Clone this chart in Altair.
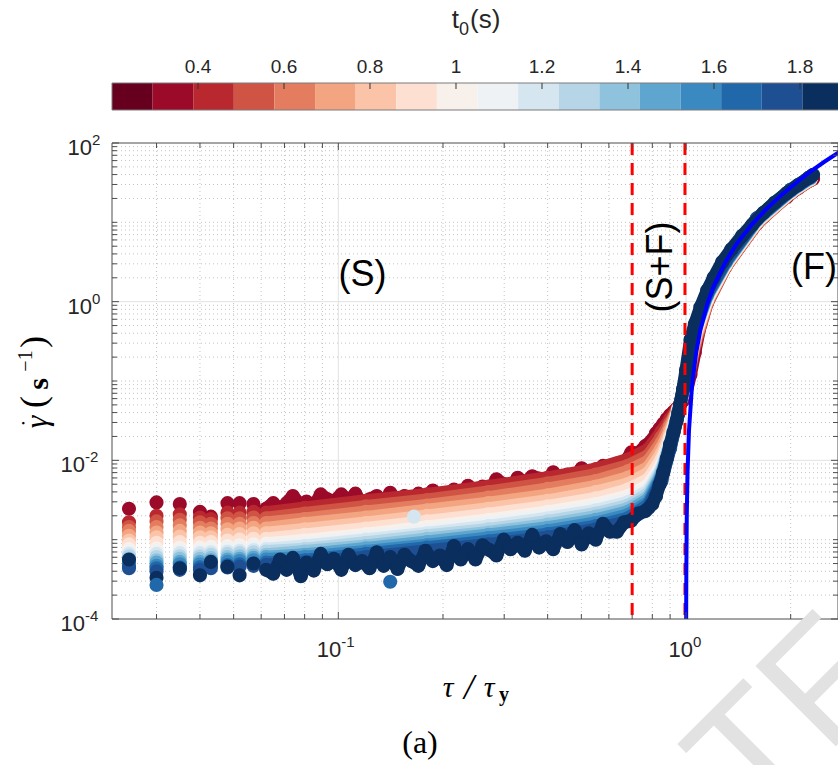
import altair as alt
import pandas as pd

# ---------------- data ----------------
t0_values = [0.3, 0.4, 0.5, 0.6, 0.7, 0.8, 0.9, 1.0, 1.1, 1.2, 1.3, 1.4, 1.5, 1.6, 1.7, 1.8, 1.9]
cbar_limits = [0.2, 1.9]
cbar_ticks = [0.4, 0.6, 0.8, 1.0, 1.2, 1.4, 1.6, 1.8]
cbar_tick_labels = ["0.4", "0.6", "0.8", "1", "1.2", "1.4", "1.6", "1.8"]
palette = ["#67001f", "#9b0a28", "#b9282f", "#d05444", "#e47d60", "#f3a581",
           "#fbc4a8", "#fde0d2", "#f8f0ea", "#eef2f5", "#d6e6f0", "#b6d6e7",
           "#8fc3dd", "#5ea5cf", "#3a89c0", "#2168ab", "#1e4f93", "#0a2f5e"]

# tau/tau_y sampling of the two outer (noisy, fully visible) series
x_fine = [0.025, 0.030, 0.035, 0.040, 0.043, 0.048, 0.052, 0.057, 0.062,
          0.065, 0.068, 0.071, 0.074, 0.078, 0.081, 0.085, 0.089, 0.093, 0.097,
          0.102, 0.107, 0.112, 0.117, 0.123, 0.129, 0.135, 0.141, 0.148, 0.155,
          0.162, 0.170, 0.178, 0.187, 0.196, 0.205, 0.215, 0.225, 0.236, 0.248,
          0.260, 0.272, 0.285, 0.299, 0.313, 0.328, 0.344, 0.361, 0.378, 0.396,
          0.415, 0.435, 0.456, 0.478, 0.501, 0.525, 0.550, 0.577, 0.604, 0.633,
          0.664, 0.696, 0.729, 0.764, 0.800,
          0.82, 0.84, 0.86, 0.88, 0.90, 0.92, 0.94, 0.96, 0.98, 1.00,
          1.03, 1.06, 1.10, 1.15, 1.20, 1.27, 1.35, 1.45, 1.55, 1.67, 1.80,
          1.95, 2.10, 2.25, 2.32]
# tau/tau_y sampling of the inner series
x_coarse = [0.025, 0.030, 0.035, 0.040, 0.043, 0.048, 0.052, 0.057, 0.062, 0.08,
            0.12, 0.18, 0.27, 0.40, 0.55, 0.68, 0.78, 0.85, 0.90, 0.95, 1.00,
            1.06, 1.15, 1.30, 1.60, 2.00, 2.28]

# log10 of shear rate (1/s) for each t0 series
lg_t03 = [-2.61, -2.53, -2.55, -2.65, -2.71, -2.54, -2.54, -2.55, -2.61,
          -2.54, -2.63, -2.54, -2.45, -2.57, -2.52, -2.58, -2.43, -2.49, -2.52,
          -2.43, -2.51, -2.42, -2.56, -2.49, -2.45, -2.54, -2.41, -2.51, -2.45,
          -2.53, -2.42, -2.47, -2.38, -2.49, -2.42, -2.37, -2.46, -2.32, -2.39,
          -2.33, -2.38, -2.24, -2.30, -2.35, -2.22, -2.28, -2.20, -2.23, -2.29,
          -2.15, -2.24, -2.18, -2.24, -2.10, -2.16, -2.17, -2.07, -2.15, -2.04,
          -2.04, -1.90, -1.91, -1.82, -1.74,
          -1.66, -1.60, -1.54, -1.48, -1.43, -1.39, -1.35, -1.30, -1.25, -1.15,
          -0.92, -0.64, -0.28, 0.00, 0.20, 0.42, 0.59, 0.77, 0.92, 1.07, 1.20,
          1.32, 1.43, 1.52, 1.55]
lg_t04 = [-2.78, -2.70, -2.68, -2.72, -2.74, -2.66, -2.66, -2.65, -2.66, -2.60, -2.51, -2.43, -2.33, -2.22, -2.11, -1.99, -1.86, -1.64, -1.48, -1.33, -1.10, -0.55, -0.02, 0.44, 0.99, 1.37, 1.53]
lg_t05 = [-2.84, -2.77, -2.75, -2.78, -2.80, -2.73, -2.73, -2.72, -2.73, -2.67, -2.58, -2.50, -2.40, -2.29, -2.18, -2.07, -1.94, -1.71, -1.53, -1.34, -1.08, -0.53, -0.01, 0.45, 0.99, 1.37, 1.53]
lg_t06 = [-2.89, -2.84, -2.82, -2.85, -2.86, -2.80, -2.80, -2.79, -2.79, -2.74, -2.65, -2.57, -2.47, -2.36, -2.26, -2.14, -2.01, -1.78, -1.57, -1.34, -1.06, -0.50, 0.00, 0.45, 1.00, 1.37, 1.54]
lg_t07 = [-2.95, -2.91, -2.89, -2.91, -2.92, -2.87, -2.86, -2.85, -2.86, -2.80, -2.72, -2.63, -2.54, -2.44, -2.33, -2.22, -2.09, -1.85, -1.62, -1.35, -1.04, -0.48, 0.01, 0.46, 1.00, 1.38, 1.54]
lg_t08 = [-3.01, -2.97, -2.96, -2.97, -2.97, -2.94, -2.93, -2.92, -2.92, -2.87, -2.79, -2.70, -2.61, -2.51, -2.40, -2.30, -2.16, -1.92, -1.67, -1.36, -1.02, -0.45, 0.02, 0.46, 1.01, 1.38, 1.54]
lg_t09 = [-3.06, -3.04, -3.03, -3.04, -3.03, -3.01, -3.00, -2.99, -2.99, -2.94, -2.86, -2.77, -2.68, -2.58, -2.48, -2.37, -2.24, -1.99, -1.71, -1.36, -1.00, -0.43, 0.03, 0.47, 1.01, 1.38, 1.55]
lg_t10 = [-3.12, -3.11, -3.10, -3.10, -3.09, -3.08, -3.07, -3.06, -3.05, -3.01, -2.93, -2.84, -2.75, -2.65, -2.55, -2.45, -2.31, -2.06, -1.76, -1.37, -0.98, -0.40, 0.04, 0.47, 1.02, 1.39, 1.55]
lg_t11 = [-3.15, -3.15, -3.14, -3.14, -3.12, -3.11, -3.10, -3.09, -3.08, -3.05, -2.97, -2.88, -2.79, -2.69, -2.59, -2.49, -2.35, -2.09, -1.77, -1.38, -0.97, -0.39, 0.05, 0.48, 1.02, 1.39, 1.55]
lg_t12 = [-3.18, -3.18, -3.17, -3.17, -3.16, -3.15, -3.14, -3.13, -3.12, -3.08, -3.00, -2.92, -2.83, -2.73, -2.63, -2.53, -2.38, -2.11, -1.78, -1.38, -0.96, -0.38, 0.06, 0.48, 1.02, 1.39, 1.55]
lg_t13 = [-3.21, -3.22, -3.21, -3.21, -3.19, -3.18, -3.17, -3.16, -3.15, -3.12, -3.04, -2.95, -2.87, -2.77, -2.67, -2.57, -2.42, -2.14, -1.79, -1.39, -0.96, -0.37, 0.07, 0.49, 1.03, 1.39, 1.56]
lg_t14 = [-3.24, -3.26, -3.24, -3.24, -3.23, -3.22, -3.21, -3.20, -3.19, -3.15, -3.08, -2.99, -2.91, -2.81, -2.71, -2.61, -2.46, -2.16, -1.80, -1.39, -0.95, -0.36, 0.08, 0.49, 1.03, 1.40, 1.56]
lg_t15 = [-3.27, -3.29, -3.28, -3.28, -3.26, -3.25, -3.24, -3.23, -3.22, -3.19, -3.11, -3.03, -2.94, -2.85, -2.75, -2.65, -2.49, -2.19, -1.82, -1.40, -0.94, -0.35, 0.08, 0.50, 1.04, 1.40, 1.56]
lg_t16 = [-3.30, -3.33, -3.31, -3.31, -3.29, -3.28, -3.27, -3.26, -3.25, -3.22, -3.15, -3.07, -2.98, -2.89, -2.79, -2.69, -2.53, -2.21, -1.83, -1.41, -0.94, -0.34, 0.09, 0.50, 1.04, 1.40, 1.57]
lg_t17 = [-3.33, -3.36, -3.35, -3.35, -3.33, -3.32, -3.31, -3.30, -3.29, -3.26, -3.18, -3.10, -3.02, -2.93, -2.83, -2.73, -2.56, -2.24, -1.84, -1.41, -0.93, -0.33, 0.10, 0.51, 1.05, 1.41, 1.57]
lg_t18 = [-3.36, -3.40, -3.38, -3.38, -3.36, -3.35, -3.34, -3.33, -3.32, -3.29, -3.22, -3.14, -3.06, -2.97, -2.87, -2.77, -2.60, -2.26, -1.85, -1.42, -0.92, -0.32, 0.11, 0.52, 1.05, 1.41, 1.57]
lg_t19 = [-3.25, -3.48, -3.36, -3.45, -3.28, -3.34, -3.45, -3.30, -3.38,
          -3.43, -3.25, -3.38, -3.23, -3.46, -3.29, -3.39, -3.18, -3.31, -3.24,
          -3.38, -3.19, -3.32, -3.27, -3.36, -3.16, -3.33, -3.22, -3.37, -3.19,
          -3.27, -3.33, -3.14, -3.27, -3.20, -3.32, -3.08, -3.25, -3.12, -3.25,
          -3.07, -3.13, -3.20, -3.00, -3.12, -3.04, -3.14, -2.94, -3.10, -3.02,
          -3.12, -2.93, -3.03, -2.88, -3.06, -2.92, -3.00, -2.80, -2.90, -2.90,
          -2.78, -2.76, -2.67, -2.64, -2.55,
          -2.45, -2.30, -2.15, -1.98, -1.80, -1.65, -1.50, -1.30, -1.10, -0.86,
          -0.48, -0.28, -0.07, 0.14, 0.30, 0.50, 0.66, 0.83, 0.97, 1.12, 1.25,
          1.37, 1.47, 1.56, 1.60]

outlier_tau = [0.165, 0.141, 0.030]
outlier_lg = [-2.71, -3.53, -3.57]
outlier_t0 = [1.2, 1.7, 1.7]

# Herschel-Bulkley fit (blue curve)
hb_tau = [1.0005, 1.001, 1.002, 1.005, 1.01, 1.02, 1.04, 1.07, 1.10, 1.15, 1.20,
          1.30, 1.40, 1.55, 1.70, 1.90, 2.10, 2.30, 2.50, 2.72, 2.80]
hb_gamma = [3.2e-5, 1.1e-4, 3.9e-4, 2.0e-3, 7.0e-3, 2.4e-2, 8.5e-2, 0.23, 0.44, 0.92,
            1.55, 3.2, 5.4, 9.5, 14.7, 23.0, 33.0, 45.0, 58.0, 74.0, 80.0]

boundary_tau = [0.70, 0.993]

annot_tau = [0.1174, 2.335]
annot_gamma = [2.17, 2.62]
annot_text = ["(S)", "(F)"]
sf_tau = [0.846]
sf_gamma = [2.74]

x_major = [0.1, 1.0]
x_major_exp = ["-1", "0"]
y_major = [1e-4, 1e-2, 1e0, 1e2]
y_major_exp = ["-4", "-2", "0", "2"]
x_minor = [0.03, 0.04, 0.05, 0.06, 0.07, 0.08, 0.09,
           0.2, 0.3, 0.4, 0.5, 0.6, 0.7, 0.8, 0.9, 2.0]
y_minor = [m * 10.0 ** e for e in range(-4, 2) for m in range(2, 10)] + [1e-3, 1e-1, 1e1]

# ---------------- chart ----------------
W, H = 726, 476
xs = alt.Scale(type="log", domain=[0.02234, 2.736], nice=False)
ys = alt.Scale(type="log", domain=[1e-4, 1e2], nice=False)
cs = alt.Scale(type="quantize", domain=cbar_limits, range=palette, nice=False, zero=False)
cbs = alt.Scale(type="linear", domain=[0.2, 1.8884], nice=False, zero=False, clamp=True)
AX = "#4d4d4d"
LBL = "#262626"
SANS = "Liberation Sans"
SERIF = "Liberation Serif"
DOT = 200      # marker area -> ~14 px circles
BAND = 13      # connecting stroke width

def X(f="v"):
    return alt.X(f + ":Q", scale=xs, axis=None)

def Y(f="v"):
    return alt.Y(f + ":Q", scale=ys, axis=None)

def ptext(s, x, y, size, color="black", **kw):
    return alt.Chart(pd.DataFrame({"a": [0]})).mark_text(fontSize=size, color=color, **kw).encode(
        x=alt.value(x), y=alt.value(y), text=alt.value(s))

layers = []
# grid
layers.append(alt.Chart(pd.DataFrame({"v": x_minor})).mark_rule(color="#c4c4c4", strokeWidth=1, strokeDash=[1, 3]).encode(x=X()))
layers.append(alt.Chart(pd.DataFrame({"v": y_minor})).mark_rule(color="#c4c4c4", strokeWidth=1, strokeDash=[1, 3]).encode(y=Y()))
layers.append(alt.Chart(pd.DataFrame({"v": x_major})).mark_rule(color="#e2e2e2", strokeWidth=1).encode(x=X()))
layers.append(alt.Chart(pd.DataFrame({"v": [1e-2, 1e0]})).mark_rule(color="#e2e2e2", strokeWidth=1).encode(y=Y()))

series = [(0.3, x_fine, lg_t03), (0.4, x_coarse, lg_t04), (0.5, x_coarse, lg_t05),
          (0.6, x_coarse, lg_t06), (0.7, x_coarse, lg_t07), (0.8, x_coarse, lg_t08),
          (0.9, x_coarse, lg_t09), (1.0, x_coarse, lg_t10), (1.1, x_coarse, lg_t11),
          (1.2, x_coarse, lg_t12), (1.3, x_coarse, lg_t13), (1.4, x_coarse, lg_t14),
          (1.5, x_coarse, lg_t15), (1.6, x_coarse, lg_t16), (1.7, x_coarse, lg_t17),
          (1.8, x_coarse, lg_t18), (1.9, x_fine, lg_t19)]

for t, xv, lg in series:
    df = pd.DataFrame({"x": xv, "y": [10.0 ** v for v in lg], "t0": [t] * len(xv)})
    base = alt.Chart(df).encode(x=X("x"), y=Y("y"),
                                color=alt.Color("t0:Q", scale=cs, legend=None))
    layers.append(base.transform_filter(alt.datum.x >= 0.061)
                  .mark_line(strokeWidth=BAND, strokeCap="round", strokeJoin="round"))
    layers.append(base.mark_circle(size=DOT, opacity=1))

odf = pd.DataFrame({"x": outlier_tau, "y": [10.0 ** v for v in outlier_lg], "t0": outlier_t0})
layers.append(alt.Chart(odf).mark_circle(size=DOT, opacity=1).encode(
    x=X("x"), y=Y("y"), color=alt.Color("t0:Q", scale=cs, legend=None)))

# boundaries and fit
layers.append(alt.Chart(pd.DataFrame({"v": boundary_tau})).mark_rule(
    color="#ff0000", strokeWidth=3, strokeDash=[12, 8]).encode(x=X()))
layers.append(alt.Chart(pd.DataFrame({"x": hb_tau, "y": hb_gamma})).mark_line(
    color="#0000ff", strokeWidth=4, clip=True).encode(x=X("x"), y=Y("y")))

# region annotations
layers.append(alt.Chart(pd.DataFrame({"x": annot_tau, "y": annot_gamma, "s": annot_text})).mark_text(
    font=SANS, fontSize=36, color="black", align="center", baseline="middle").encode(
    x=X("x"), y=Y("y"), text="s:N"))
layers.append(alt.Chart(pd.DataFrame({"x": sf_tau, "y": sf_gamma, "s": ["(S+F)"]})).mark_text(
    font=SANS, fontSize=36, color="black", align="center", baseline="middle", angle=270).encode(
    x=X("x"), y=Y("y"), text="s:N"))

# frame and inward ticks
layers.append(alt.Chart(pd.DataFrame({"a": [0]})).mark_rect(fillOpacity=0, stroke=AX, strokeWidth=1).encode(
    x=alt.value(0), x2=alt.value(W), y=alt.value(0), y2=alt.value(H)))
for vals, ln in ((x_minor, 5), (x_major, 7)):
    d = pd.DataFrame({"v": vals})
    layers.append(alt.Chart(d).mark_rule(color=AX, strokeWidth=1).encode(x=X(), y=alt.value(H), y2=alt.value(H - ln)))
    layers.append(alt.Chart(d).mark_rule(color=AX, strokeWidth=1).encode(x=X(), y=alt.value(0), y2=alt.value(ln)))
for vals, ln in ((y_minor, 5), (y_major, 7)):
    d = pd.DataFrame({"v": vals})
    layers.append(alt.Chart(d).mark_rule(color=AX, strokeWidth=1).encode(y=Y(), x=alt.value(0), x2=alt.value(ln)))
    layers.append(alt.Chart(d).mark_rule(color=AX, strokeWidth=1).encode(y=Y(), x=alt.value(W), x2=alt.value(W - ln)))

# tick labels (10 with superscript exponent)
for v, e in zip(x_major, x_major_exp):
    d = pd.DataFrame({"v": [v], "e": [e]})
    off = 3 if len(e) == 2 else 7
    layers.append(alt.Chart(d).mark_text(font=SANS, fontSize=22, color=LBL, align="right",
                                         baseline="middle", dx=off).encode(x=X(), y=alt.value(H + 31), text=alt.value("10")))
    layers.append(alt.Chart(d).mark_text(font=SANS, fontSize=15, color=LBL, align="left",
                                         baseline="middle", dx=off).encode(x=X(), y=alt.value(H + 23), text="e:N"))
for v, e in zip(y_major, y_major_exp):
    d = pd.DataFrame({"v": [v], "e": [e]})
    anchor = -20 if len(e) == 1 else -27
    layers.append(alt.Chart(d).mark_text(font=SANS, fontSize=22, color=LBL, align="right",
                                         baseline="middle", dy=5).encode(y=Y(), x=alt.value(anchor), text=alt.value("10")))
    layers.append(alt.Chart(d).mark_text(font=SANS, fontSize=15, color=LBL, align="left",
                                         baseline="middle", dy=-3).encode(y=Y(), x=alt.value(anchor), text="e:N"))

# x title and panel letter
layers.append(ptext("\u03c4", 336, 554, 30, font=SERIF, fontStyle="italic", align="center", baseline="alphabetic"))
layers.append(ptext("/", 357, 556, 36, font=SERIF, fontStyle="italic", align="center", baseline="alphabetic"))
layers.append(ptext("\u03c4", 377, 554, 30, font=SERIF, fontStyle="italic", align="center", baseline="alphabetic"))
layers.append(ptext("y", 392, 558, 20, font=SERIF, fontWeight="bold", align="center", baseline="alphabetic"))
layers.append(ptext("(a)", 308, 600, 32, font=SERIF, align="center", baseline="middle"))

# y title: dotted gamma (s^-1), reading bottom-to-top
layers.append(ptext("\u03b3", -75, 279, 32, font=SERIF, fontStyle="italic", align="center", baseline="middle", angle=270))
layers.append(ptext("\u2022", -88, 280, 11, font=SERIF, align="center", baseline="middle", angle=270))
layers.append(ptext("(", -78, 259, 36, font=SERIF, align="center", baseline="middle", angle=270))
layers.append(ptext("s", -73, 241, 30, font=SERIF, fontWeight="bold", align="center", baseline="middle", angle=270))
layers.append(ptext("\u22121", -86, 218, 20, font=SERIF, align="center", baseline="middle", angle=270))
layers.append(ptext(")", -78, 199, 36, font=SERIF, align="center", baseline="middle", angle=270))

# colorbar
step = (cbar_limits[1] - cbar_limits[0]) / len(palette)
cb = pd.DataFrame({"lo": [cbar_limits[0] + i * step for i in range(len(palette))],
                   "hi": [cbar_limits[0] + (i + 1) * step for i in range(len(palette))],
                   "t0": [cbar_limits[0] + (i + 0.5) * step for i in range(len(palette))]})
layers.append(alt.Chart(cb).mark_rect().encode(
    x=alt.X("lo:Q", scale=cbs, axis=None), x2="hi:Q",
    y=alt.value(-60), y2=alt.value(-33),
    color=alt.Color("t0:Q", scale=cs, legend=None)))
layers.append(alt.Chart(pd.DataFrame({"a": [0]})).mark_rect(fillOpacity=0, stroke="#7a7a7a", strokeWidth=1).encode(
    x=alt.value(0), x2=alt.value(740), y=alt.value(-60), y2=alt.value(-33)))
ct = pd.DataFrame({"v": cbar_ticks, "s": cbar_tick_labels})
layers.append(alt.Chart(ct).mark_rule(color="#333333", strokeWidth=1).encode(
    x=alt.X("v:Q", scale=cbs, axis=None), y=alt.value(-60), y2=alt.value(-54)))
layers.append(alt.Chart(ct).mark_text(font=SANS, fontSize=19, color=LBL, align="center", baseline="middle").encode(
    x=alt.X("v:Q", scale=cbs, axis=None), y=alt.value(-76), text="s:N"))
layers.append(ptext("t", 347, -123, 26, color=LBL, font=SANS, align="right", baseline="middle"))
layers.append(ptext("0", 347, -113, 18, color=LBL, font=SANS, align="left", baseline="middle"))
layers.append(ptext("(s)", 358, -123, 26, color=LBL, font=SANS, align="left", baseline="middle"))

# publisher watermark (light grey, rotated) at the lower right
layers.append(ptext("TF", 643, 684, 165, color="#e2e2e2", font=SANS, align="left",
                    baseline="alphabetic", angle=315))

chart = alt.layer(*layers).resolve_scale(x="independent").properties(
    width=W, height=H,
    autosize=alt.AutoSizeParams(type="none"),
    padding={"left": 112, "top": 143, "right": 0, "bottom": 146},
    background="white",
).configure_view(strokeWidth=0)

chart.save("out.html", embed_options={"renderer": "svg", "actions": False})
